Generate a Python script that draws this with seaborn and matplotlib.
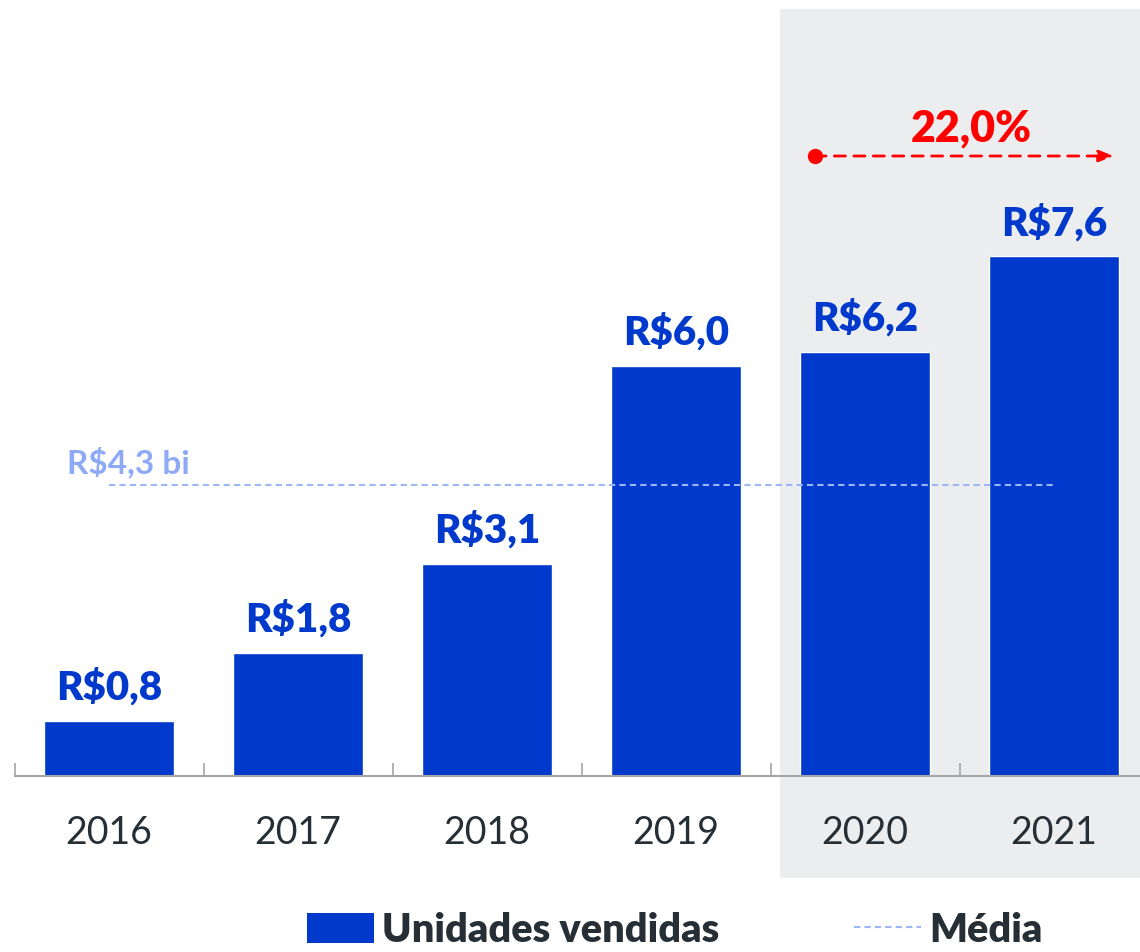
import matplotlib
matplotlib.use("Agg")
import matplotlib.pyplot as plt
from matplotlib.patches import Rectangle, Patch
from matplotlib.lines import Line2D
import numpy as np
import seaborn as sns

# dados do grafico
anos = ["2016", "2017", "2018", "2019", "2020", "2021"]
valores = [0.8, 1.8, 3.1, 6.0, 6.2, 7.6]
rotulos = ["R$0,8", "R$1,8", "R$3,1", "R$6,0", "R$6,2", "R$7,6"]
media_txt = "R$4,3 bi"
crescimento_txt = "22,0%"
legenda = ["Unidades vendidas", "Média"]

AZUL = "#0039CB"
AZUL_CLARO = "#9DB6F7"
CINZA_FUNDO = "#ECEDEF"
TEXTO = "#262F35"
VERMELHO = "#FF0000"

sns.set_style("white")
plt.rcParams["font.family"] = ["Lato", "DejaVu Sans"]

W, H = 1140, 953
fig = plt.figure(figsize=(W / 100, H / 100), dpi=100)

# faixa cinza atras de 2020-2021 (coords da figura)
fig.add_artist(Rectangle((780 / W, 1 - 879 / H), 1 - 780 / W, (879 - 10) / H,
                         transform=fig.transFigure, facecolor=CINZA_FUNDO,
                         edgecolor="none", zorder=-5))

base_px = 776.5
ax = fig.add_axes([14.5 / W, 1 - base_px / H, 1134 / W, base_px / H])
ax.patch.set_alpha(0)

sns.barplot(x=anos, y=valores, color=AZUL, saturation=1, width=0.69, ax=ax, zorder=2)

px_per_unit = 68.3
ax.set_ylim(0, base_px / px_per_unit)
ax.set_xlim(-0.5, 5.5)

media = float(np.mean(valores))
ax.hlines(media, 0, 5, colors=AZUL_CLARO, linestyles=(0, (3, 2)), lw=1.5, zorder=3)
ax.text(-0.22, media + 0.12, media_txt, color="#8EAAF7", fontsize=24,
        fontweight="bold", ha="left", va="bottom")

for i, (v, t) in enumerate(zip(valores, rotulos)):
    ax.annotate(t, (i, v), xytext=(0, 16), textcoords="offset points",
                ha="center", va="baseline", color=AZUL, fontsize=29,
                fontweight="heavy")

# seta de crescimento
y_seta = (base_px - 157) / px_per_unit
ax.annotate("", xy=(5.317, y_seta), xytext=(3.735, y_seta),
            arrowprops=dict(arrowstyle="-|>,head_length=0.9,head_width=0.35",
                            color=VERMELHO, lw=2, linestyle=(0, (4, 3)),
                            shrinkA=0, shrinkB=0))
ax.plot([3.735], [y_seta], "o", color=VERMELHO, ms=10, zorder=4)
ax.text(4.56, (base_px - 128) / px_per_unit, crescimento_txt, color=VERMELHO,
        fontsize=31, fontweight="heavy", ha="center", va="center")

for s in ["left", "top", "right"]:
    ax.spines[s].set_visible(False)
ax.spines["bottom"].set_color("#A6A6A6")
ax.spines["bottom"].set_linewidth(1.5)
ax.set_yticks([])
ax.set_xticks(range(len(anos)))
ax.set_xticklabels(anos, fontsize=27, color=TEXTO)
ax.set_xticks(np.arange(-0.5, 6, 1), minor=True)
ax.tick_params(axis="x", which="major", bottom=False, length=0, pad=28)
ax.tick_params(axis="x", which="minor", bottom=True, direction="in", length=9.5,
               width=1.2, color="#A6A6A6")
ax.set_xlabel("")
ax.set_ylabel("")

handles = [Patch(facecolor=AZUL, edgecolor="none"),
           Line2D([0], [0], color=AZUL_CLARO, lw=1.5, linestyle=(0, (3, 2)))]
leg = fig.legend(handles, legenda, loc="center left",
                 bbox_to_anchor=(307 / W, 1 - 931 / H), ncol=2, frameon=False,
                 prop={"size": 28.5, "weight": "heavy"}, handlelength=1.7,
                 handleheight=0.8, handletextpad=0.2, columnspacing=3.4,
                 borderpad=0, borderaxespad=0)
for t in leg.get_texts():
    t.set_color(TEXTO)

fig.savefig("out.png", dpi=100)
